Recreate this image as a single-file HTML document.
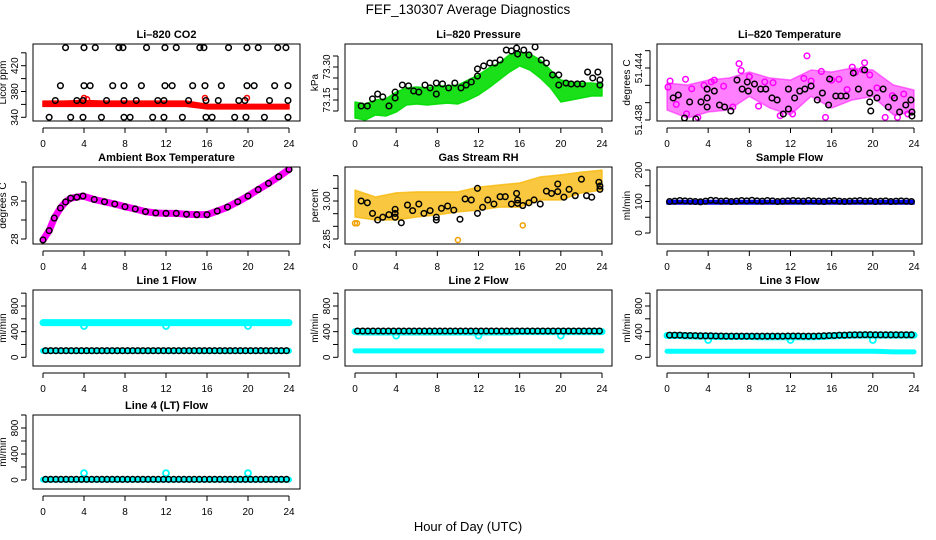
<!DOCTYPE html>
<html><head><meta charset="utf-8"><style>
body{margin:0;background:#fff}
svg{display:block;font-family:"Liberation Sans",sans-serif}
</style></head><body>
<svg id="c" width="936" height="540" viewBox="0 0 936 540">
<rect width="936" height="540" fill="#fff"/>
<text x="468" y="14" text-anchor="middle" font-size="13.5">FEF_130307  Average Diagnostics</text>
<text x="468" y="531" text-anchor="middle" font-size="13">Hour of Day (UTC)</text>
</svg>
<script>
// ---------- data ----------
const xTicks=[0,4,8,12,16,20,24];
const bandHours=[0,2,4,6,8,10,12,14,16,18,20,22,24];
const hours25=[0,1,2,3,4,5,6,7,8,9,10,11,12,13,14,15,16,17,18,19,20,21,22,23,24];
const halfHours=[0.25,0.75,1.25,1.75,2.25,2.75,3.25,3.75,4.25,4.75,5.25,5.75,6.25,6.75,7.25,7.75,8.25,8.75,9.25,9.75,10.25,10.75,11.25,11.75,12.25,12.75,13.25,13.75,14.25,14.75,15.25,15.75,16.25,16.75,17.25,17.75,18.25,18.75,19.25,19.75,20.25,20.75,21.25,21.75,22.25,22.75,23.25,23.75];

// CO2
const co2RedLow=[357,357,357,357,357,357,357,357,353,353,353,353,353];
const co2RedHigh=[365,365,366,365,365,365,365,365,360,360,360,360,360];
const co2BlackHours=[2.2,4,5.1,7.4,7.8,10.1,11.9,13,15.3,15.7,18.1,19.9,21,22.9,23.7,1.7,4,4.6,6.8,7.9,9.6,11.9,12.6,14.6,15.8,17.4,19.9,20.6,22.6,23.9,1.2,3.3,3.9,6.2,7.9,9.1,11.2,11.8,14.2,15.9,17.1,19.1,19.7,22.1,23.9,0.6,2.7,3.9,5.7,7.9,8.5,10.7,11.8,13.6,15.9,16.5,18.7,19.8,21.6,23.9];
const co2BlackVals=[448,448,448,448,448,448,448,448,448,448,448,448,448,448,448,389,389,389,389,389,389,389,389,389,389,389,389,389,389,389,366,366,366,366,366,366,366,366,366,366,366,366,366,366,366,340,340,340,340,340,340,340,340,340,340,340,340,340,340,340];

// Pressure
const presLow=[73.068,73.059,73.082,73.077,73.095,73.127,73.132,73.127,73.132,73.136,73.132,73.150,73.173,73.205,73.241,73.277,73.305,73.286,73.250,73.205,73.141,73.150,73.159,73.168,73.168];
const presHigh=[73.141,73.132,73.150,73.155,73.186,73.205,73.209,73.205,73.214,73.214,73.218,73.241,73.264,73.295,73.318,73.355,73.368,73.359,73.332,73.286,73.241,73.232,73.227,73.227,73.223];
const presBlackHours=[0.6,1.2,1.7,2.2,2.7,3.3,3.9,3.9,4.6,5.2,5.7,6.2,6.8,7.3,7.9,7.9,8.5,9.1,9.7,10.3,10.8,11.3,11.9,11.9,12.5,13.1,13.6,14.1,14.7,15.2,15.7,15.8,16.4,16.9,17.5,18.1,18.6,19.2,19.8,19.8,20.5,21.0,21.6,22.1,22.6,23.1,23.6,23.8,23.8];
const presBlackVals=[73.123,73.123,73.155,73.177,73.164,73.123,73.186,73.159,73.218,73.214,73.191,73.186,73.218,73.205,73.227,73.177,73.223,73.205,73.227,73.205,73.218,73.232,73.291,73.259,73.305,73.318,73.318,73.332,73.377,73.373,73.386,73.359,73.377,73.355,73.391,73.332,73.318,73.264,73.264,73.218,73.227,73.223,73.223,73.223,73.277,73.250,73.277,73.241,73.218];

// Li-820 temperature
const tempLow=[51.43915,51.43823,51.43892,51.43915,51.44073,51.43938,51.43858,51.44073,51.43938,51.44031,51.44073,51.43858,51.43892];
const tempHigh=[51.44227,51.44204,51.44261,51.44284,51.44354,51.44284,51.44261,51.44377,51.44354,51.44400,51.44377,51.44204,51.44146];
const tempPinkHours=[0.1,0.3,0.9,1.8,1.9,2.4,3.0,3.6,4.3,4.6,5.5,6.4,7.0,7.2,8.0,8.9,9.5,10.3,11.0,12.2,13.3,13.6,14.0,15.0,15.4,16.0,16.7,17.5,18.0,18.3,19.0,19.2,19.7,20.4,21.2,21.9,22.4,23.0,23.4];
const tempPinkVals=[51.44180,51.44250,51.43980,51.44270,51.43870,51.44160,51.43830,51.44200,51.44240,51.44260,51.44190,51.43950,51.44450,51.44370,51.44300,51.43960,51.44240,51.44230,51.43850,51.43870,51.44280,51.44540,51.44250,51.44360,51.43830,51.44260,51.44270,51.44150,51.44410,51.44350,51.44380,51.44460,51.44320,51.44170,51.43830,51.44080,51.43830,51.44100,51.43870];
const tempBlackHours=[0.6,1.1,1.7,2.2,2.8,3.3,3.9,3.9,3.9,4.6,5.1,5.6,6.2,6.8,7.3,7.8,7.9,8.5,9.1,9.6,10.2,10.7,11.3,11.8,11.8,12.4,12.9,13.4,14.0,14.6,15.1,15.7,15.8,16.4,16.9,17.4,18.1,18.6,19.2,19.7,19.7,19.8,20.4,21.0,21.5,22.1,22.6,23.2,23.7,23.8,23.8];
const tempBlackVals=[51.44054,51.44088,51.43823,51.44008,51.43812,51.44008,51.44157,51.43950,51.44054,51.44134,51.43973,51.43950,51.43904,51.44261,51.44157,51.44238,51.44134,51.44215,51.44157,51.44157,51.44054,51.44031,51.43869,51.43927,51.44157,51.44054,51.44134,51.44157,51.44192,51.44031,51.44111,51.43973,51.44273,51.44077,51.44077,51.44077,51.44342,51.44157,51.44377,51.44111,51.44008,51.43904,51.44054,51.44157,51.43950,51.44054,51.43892,51.43973,51.44031,51.43892,51.43846];

// Ambient box temperature
const ambHours=[0,0.6,1.1,1.7,2.2,2.7,3.3,3.9,5,6,7,8,9,10,11,12,13,14,15,16,17,18,19,20,21,22,23,24];
const ambVals=[27.95,28.44,29.1,29.63,29.95,30.15,30.2,30.26,30.08,29.96,29.84,29.7,29.58,29.44,29.37,29.35,29.35,29.3,29.28,29.28,29.47,29.68,29.96,30.26,30.6,30.93,31.28,31.66];

// Gas stream RH
const rhLow=[2.937,2.925,2.925,2.937,2.945,2.957,2.964,2.976,2.976,3.004,3.004,3.032,3.043];
const rhHigh=[3.043,3.016,3.032,3.036,3.036,3.036,3.055,3.063,3.071,3.095,3.103,3.114,3.122];
const rhOutHours=[0,0.2,10,16.3];
const rhOutVals=[2.912,2.912,2.846,2.904];
const rhBlackHours=[0.6,1.2,1.7,2.2,2.7,3.3,3.9,3.9,3.9,4.5,5.1,5.6,6.2,6.7,7.3,7.9,7.9,8.4,9.0,9.6,10.2,10.7,11.3,11.9,11.9,12.4,12.9,13.5,14.1,14.6,15.2,15.7,15.8,15.8,16.3,16.9,17.4,18.0,18.6,19.1,19.7,19.7,20.3,20.8,21.4,22.0,22.5,23.0,23.7,23.8,23.8];
const rhBlackVals=[3.000,2.993,2.951,2.925,2.936,2.946,2.967,2.951,2.936,2.914,2.984,2.962,2.988,2.951,2.962,2.936,2.925,2.971,2.980,2.964,2.928,3.008,3.004,3.050,2.951,2.975,3.004,2.988,3.017,3.017,2.988,3.030,3.004,2.991,2.982,2.993,3.004,2.988,3.039,3.030,3.037,3.067,3.015,3.046,3.021,3.086,3.021,3.015,3.074,3.059,3.046];

// Sample flow
const sampleBlueLow=[92,92,92,92,92,92,92,92,92,92,92,92,92];
const sampleBlueHigh=[103,103,103,103,103,103,103,103,103,103,103,103,103];
const sampleBlack=[100,101,103,102,101,100,99,101,104,103,101,102,100,101,103,102,104,102,101,103,102,100,101,102,103,102,101,103,102,101,100,102,103,101,100,101,102,103,101,102,100,101,102,100,101,102,101,100];

// Line flows
const line1CyanHigh=[540,540,540,540,540,540,540,540,540,540,540,540,540,540,540,540,540,540,540,540,540,540,540,540,540];
const line1CyanLow=[100,100,100,100,100,100,100,100,100,100,100,100,100,100,100,100,100,100,100,100,100,100,100,100,100];
const line1DipHours=[4,12,20];
const line1DipVals=[489,489,489];
const line1Black=[103,103,103,103,103,103,103,103,103,103,103,103,103,103,103,103,103,103,103,103,103,103,103,103,103,103,103,103,103,103,103,103,103,103,103,103,103,103,103,103,103,103,103,103,103,103,103,103];

const line2CyanHigh=[400,395,395,395,395,395,395,395,395,395,395,395,395,395,395,395,400,400,400,400,400,400,400,400,400];
const line2CyanLow=[100,100,100,100,100,100,100,100,100,100,100,100,100,100,100,100,100,100,100,100,100,100,100,100,100];
const line2DipHours=[4,12,20];
const line2DipVals=[338,338,338];
const line2Black=[410,410,410,410,410,410,410,410,410,410,410,410,410,410,410,410,410,410,410,410,410,410,410,410,410,410,410,410,410,410,410,410,410,410,410,410,410,410,410,410,410,410,410,410,410,410,410,410];

const line3CyanHigh=[340,340,335,330,330,325,325,325,325,320,320,320,320,320,320,325,335,340,345,345,345,345,345,345,345];
const line3CyanLow=[95,95,95,95,95,95,95,95,95,95,95,95,95,95,95,95,95,95,95,95,95,90,85,85,85];
const line3DipHours=[4,12,20];
const line3DipVals=[270,270,270];
const line3Black=[345,345,345,340,340,338,335,335,335,332,332,330,330,330,330,330,330,330,330,330,330,330,330,332,332,332,330,330,330,332,335,338,340,345,345,348,350,350,352,352,350,350,350,350,350,350,350,350];

const line4CyanBase=[5,5,5,5,5,5,5,5,5,5,5,5,5,5,5,5,5,5,5,5,5,5,5,5,5];
const line4SpikeHours=[4,12,20];
const line4SpikeVals=[105,105,105];
const line4Black=[10,10,10,10,10,10,10,10,10,10,10,10,10,10,10,10,10,10,10,10,10,10,10,10,10,10,10,10,10,10,10,10,10,10,10,10,10,10,10,10,10,10,10,10,10,10,10,10];

// ---------- drawing ----------
const NS='http://www.w3.org/2000/svg';
const svg=document.getElementById('c');
function mk(tag,attrs,parent){const e=document.createElementNS(NS,tag);for(const k in attrs)e.setAttribute(k,attrs[k]);(parent||svg).appendChild(e);return e;}
const cols=[{l:33,r:300,x0:43,x1:289},{l:345,r:612,x0:355,x1:602},{l:657,r:922,x0:667,x1:914}];
const rows=[{t:44,b:121},{t:167,b:244},{t:290,b:366},{t:415,b:489}];

function makePanel(name,title,ylab,ci,ri,v1,p1,v2,p2,yTicks,yLabels){
  const c=cols[ci],r=rows[ri];
  const g=mk('g',{});
  
  
  const clipId='clip-'+name;
  const cp=mk('clipPath',{id:clipId},g);
  mk('rect',{x:c.l,y:r.t,width:c.r-c.l,height:r.b-r.t},cp);
  const xs=h=>c.x0+(c.x1-c.x0)*h/24;
  const ys=v=>p1+(v-v1)*(p2-p1)/(v2-v1);
  const plot=mk('g',{'clip-path':'url(#'+clipId+')'},g);
  
  
  const fr=mk('rect',{x:c.l,y:r.t,width:c.r-c.l,height:r.b-r.t,fill:'none',stroke:'#000','stroke-width':1},g);
  
  
  const t=mk('text',{x:(c.l+c.r)/2,y:r.t-6,'text-anchor':'middle','font-size':11,'font-weight':'bold'},g);
  t.textContent=title;
  
  
  const xa=mk('g',{},g);
  
  
  mk('line',{x1:xs(0),x2:xs(24),y1:r.b+7,y2:r.b+7,stroke:'#000'},xa);
  xTicks.forEach(h=>{
    mk('line',{x1:xs(h),x2:xs(h),y1:r.b+7,y2:r.b+12,stroke:'#000'},xa);
    const tl=mk('text',{x:xs(h),y:r.b+26,'text-anchor':'middle','font-size':10},xa);
    tl.textContent=h;
    
    
  });
  const ya=mk('g',{},g);
  
  
  const ax=c.l-7;
  mk('line',{x1:ax,x2:ax,y1:ys(yTicks[0]),y2:ys(yTicks[yTicks.length-1]),stroke:'#000'},ya);
  yTicks.forEach(v=>mk('line',{x1:ax-5,x2:ax,y1:ys(v),y2:ys(v),stroke:'#000'},ya));
  yLabels.forEach(v=>{
    const yy=ys(parseFloat(v));
    const tl=mk('text',{x:ax-8,y:yy,'text-anchor':'middle','font-size':10,transform:'rotate(-90 '+(ax-8)+' '+yy+')'},ya);
    tl.textContent=v;
    
    
  });
  const yl=mk('text',{x:c.l-27,y:(r.t+r.b)/2,'text-anchor':'middle','font-size':10,transform:'rotate(-90 '+(c.l-27)+' '+(r.t+r.b)/2+')'},g);
  yl.textContent=ylab;
  
  
  return {plot,xs,ys};
}
function band(P,hrs,lo,hi,fill,op,nm){
  let d='M'+hrs.map((h,i)=>P.xs(h)+','+P.ys(hi[i])).join(' L');
  d+=' L'+hrs.map((h,i)=>P.xs(h)+','+P.ys(lo[i])).reverse().join(' L')+' Z';
  const p=mk('path',{d,fill,'fill-opacity':op,stroke:fill,'stroke-opacity':op,'stroke-width':1.5,'stroke-linejoin':'round'},P.plot);
  
  
}
function pts(P,hrs,vals,color,rad,sw,nm){
  const g=mk('g',{},P.plot);
  
  
  hrs.forEach((h,i)=>{
    const e=mk('circle',{cx:P.xs(h),cy:P.ys(vals[i]),r:rad,fill:'none',stroke:color,'stroke-width':sw},g);
    
    
  });
}
function thick(P,hrs,vals,color,w,nm){
  const p=mk('polyline',{points:hrs.map((h,i)=>P.xs(h)+','+P.ys(vals[i])).join(' '),fill:'none',stroke:color,'stroke-width':w,'stroke-linecap':'round','stroke-linejoin':'round'},P.plot);
  
  
}

let P=makePanel('co2','Li\u2013820 CO2','Licor ppm',0,0,340,117.3,420,65.7,[340,360,380,400,420,440],['340','380','420']);
band(P,bandHours,co2RedLow,co2RedHigh,'#ff0000',1,'co2-red-band');
pts(P,[4,4.3,15.8,19.9],[370,368,370,370],'#ff0000',2.5,1.5,'co2-red-spikes');
pts(P,co2BlackHours,co2BlackVals,'#000',2.8,1.5,'co2-black-points');

P=makePanel('pressure','Li\u2013820 Pressure','kPa',1,0,73.15,100,73.30,67,[73.10,73.15,73.20,73.25,73.30,73.35],['73.15','73.30']);
band(P,hours25,presLow,presHigh,'#00dd00',0.9,'pressure-green-band');
pts(P,presBlackHours,presBlackVals,'#000',2.8,1.5,'pressure-black-points');

P=makePanel('li820-temp','Li\u2013820 Temperature','degrees C',2,0,51.438,120,51.444,68,[51.438,51.440,51.442,51.444,51.446],['51.438','51.444']);
band(P,bandHours,tempLow,tempHigh,'#ff00ff',0.5,'temp-magenta-band');
pts(P,tempPinkHours,tempPinkVals,'#ff00ff',2.8,1.5,'temp-magenta-points');
pts(P,tempBlackHours,tempBlackVals,'#000',2.8,1.5,'temp-black-points');

P=makePanel('ambient','Ambient Box Temperature','degrees C',0,1,28,239,30,201,[28,29,30,31],['28','30']);
thick(P,ambHours,ambVals,'#ff00ff',7,'ambient-magenta-line');
pts(P,ambHours,ambVals,'#000',2.8,1.5,'ambient-black-points');

P=makePanel('rh','Gas Stream RH','percent',1,1,2.85,239,3.00,201,[2.85,2.90,2.95,3.00,3.05,3.10],['2.85','3.00']);
band(P,bandHours,rhLow,rhHigh,'#f7b500',0.75,'rh-orange-band');
pts(P,rhOutHours,rhOutVals,'#f0a000',2.5,1.5,'rh-orange-outliers');
pts(P,rhBlackHours,rhBlackVals,'#000',2.8,1.5,'rh-black-points');

P=makePanel('sample-flow','Sample Flow','ml/min',2,1,0,233,200,170,[0,50,100,150,200],['0','100','200']);
band(P,bandHours,sampleBlueLow,sampleBlueHigh,'#0000ee',1,'sample-blue-band');
pts(P,halfHours,sampleBlack,'#000',2.8,1.5,'sample-black-points');

const flowTicks=[0,200,400,600,800,1000],flowLabels=['0','400','800'];
P=makePanel('line1','Line 1 Flow','ml/min',0,2,0,357.3,800,306,flowTicks,flowLabels);
thick(P,hours25,line1CyanHigh,'#00ffff',7,'line1-cyan-high');
thick(P,hours25,line1CyanLow,'#00ffff',6,'line1-cyan-low');
pts(P,line1DipHours,line1DipVals,'#00ffff',3,1.8,'line1-cyan-dips');
pts(P,halfHours,line1Black,'#000',2.8,1.5,'line1-black-points');
P=makePanel('line2','Line 2 Flow','ml/min',1,2,0,357.3,800,306,flowTicks,flowLabels);
thick(P,hours25,line2CyanHigh,'#00ffff',7,'line2-cyan-high');
thick(P,hours25,line2CyanLow,'#00ffff',5,'line2-cyan-low');
pts(P,line2DipHours,line2DipVals,'#00ffff',3,1.8,'line2-cyan-dips');
pts(P,halfHours,line2Black,'#000',2.8,1.5,'line2-black-points');
P=makePanel('line3','Line 3 Flow','ml/min',2,2,0,357.3,800,306,flowTicks,flowLabels);
thick(P,hours25,line3CyanHigh,'#00ffff',7,'line3-cyan-high');
thick(P,hours25,line3CyanLow,'#00ffff',5,'line3-cyan-low');
pts(P,line3DipHours,line3DipVals,'#00ffff',3,1.8,'line3-cyan-dips');
pts(P,halfHours,line3Black,'#000',2.8,1.5,'line3-black-points');
P=makePanel('line4','Line 4 (LT) Flow','ml/min',0,3,0,480,800,428,flowTicks,flowLabels);
thick(P,hours25,line4CyanBase,'#00ffff',6,'line4-cyan-base');
pts(P,line4SpikeHours,line4SpikeVals,'#00ffff',3,1.8,'line4-cyan-spikes');
pts(P,halfHours,line4Black,'#000',2.8,1.5,'line4-black-points');
</script>
</body></html>
